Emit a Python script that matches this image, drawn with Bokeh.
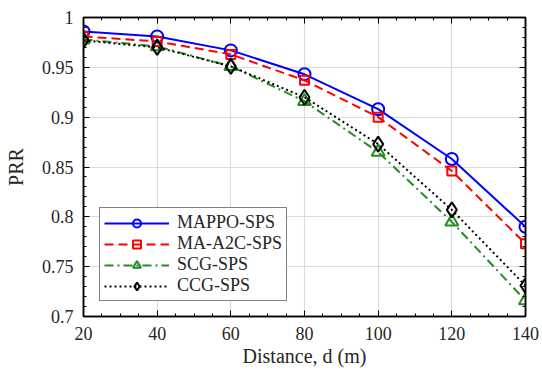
from bokeh.plotting import figure
from bokeh.models import FixedTicker, LinearAxis, Range1d, Legend, LegendItem
from bokeh.embed import file_html
from bokeh.resources import INLINE

distance = [20, 40, 60, 80, 100, 120, 140]
mappo = [0.986, 0.981, 0.967, 0.943, 0.908, 0.858, 0.790]
ma_a2c = [0.981, 0.976, 0.963, 0.937, 0.900, 0.846, 0.773]
scg = [0.978, 0.971, 0.951, 0.916, 0.865, 0.795, 0.716]
ccg = [0.977, 0.970, 0.951, 0.920, 0.873, 0.807, 0.731]

x_ticks = [20, 40, 60, 80, 100, 120, 140]
y_ticks = [0.7, 0.75, 0.8, 0.85, 0.9, 0.95, 1.0]
y_labels = ["0.7", "0.75", "0.8", "0.85", "0.9", "0.95", "1"]

FONT = "Liberation Serif"
TXT = "#262626"

p = figure(width=542, height=370, output_backend="svg", toolbar_location=None,
           x_range=Range1d(20, 140), y_range=Range1d(0.7, 1.0),
           min_border_left=83, min_border_right=17, min_border_top=17, min_border_bottom=54,
           x_axis_label="Distance, d (m)", y_axis_label="PRR")
p.background_fill_color = "white"
p.border_fill_color = "white"
p.outline_line_color = "black"
p.outline_line_width = 1.5

x_minor = [20 + 5 * i for i in range(25)]
y_minor = [round(0.7 + 0.01 * i, 2) for i in range(31)]

for ax, ticks, minor in ((p.xaxis[0], x_ticks, x_minor), (p.yaxis[0], y_ticks, y_minor)):
    ax.ticker = FixedTicker(ticks=ticks, minor_ticks=minor)
    ax.major_tick_in = 6
    ax.major_tick_out = 0
    ax.minor_tick_in = 3
    ax.minor_tick_out = 0
    ax.axis_line_color = "black"
    ax.axis_line_width = 1.5
    ax.major_tick_line_color = "black"
    ax.minor_tick_line_color = "black"
    ax.major_label_text_font = FONT
    ax.major_label_text_font_size = "18px"
    ax.major_label_text_color = TXT
    ax.axis_label_text_font = FONT
    ax.axis_label_text_font_size = "20px"
    ax.axis_label_text_font_style = "normal"
    ax.axis_label_text_color = TXT
p.yaxis[0].major_label_overrides = {t: l for t, l in zip(y_ticks, y_labels)}
p.yaxis[0].major_label_standoff = 10
p.xaxis[0].major_label_standoff = 10
p.yaxis[0].axis_label_standoff = 12
p.xaxis[0].axis_label_standoff = 2

for loc, ticks, minor in (("right", y_ticks, y_minor), ("above", x_ticks, x_minor)):
    a = LinearAxis(ticker=FixedTicker(ticks=ticks, minor_ticks=minor),
                   major_label_text_font_size="0px", major_label_text_color=None,
                   major_tick_in=6, major_tick_out=0, minor_tick_in=3, minor_tick_out=0,
                   axis_line_color="black", axis_line_width=1.5,
                   major_label_standoff=0)
    p.add_layout(a, loc)

p.xgrid.ticker = FixedTicker(ticks=x_ticks)
p.ygrid.ticker = FixedTicker(ticks=y_ticks)
p.xgrid.grid_line_color = "#dcdcdc"
p.ygrid.grid_line_color = "#dcdcdc"
p.xgrid.grid_line_width = 1.2
p.ygrid.grid_line_width = 1.2

series = [
    ("MAPPO-SPS", mappo, "#0000ff", "solid", "circle", 12),
    ("MA-A2C-SPS", ma_a2c, "#ff0000", "9 5", "square", 9),
    ("SCG-SPS", scg, "#228b22", "9 4 2 4", "triangle", 13),
    ("CCG-SPS", ccg, "#000000", "2 3", "diamond", 15),
]
items = []
for name, ys, col, dash, marker, size in series:
    l = p.line(distance, ys, line_color=col, line_width=2, line_dash=dash)
    s = p.scatter(distance, ys, marker=marker, size=size, line_color=col, line_width=2,
                  fill_color="white", fill_alpha=0)
    items.append(LegendItem(label=name, renderers=[l, s]))

leg = Legend(items=items, location=(16, 15))
leg.label_text_font = FONT
leg.label_text_font_size = "18px"
leg.label_text_color = TXT
leg.glyph_width = 65
leg.glyph_height = 20
leg.label_height = 20
leg.spacing = 0
leg.padding = 4
leg.margin = 0
leg.label_standoff = 8
leg.border_line_color = "black"
leg.border_line_width = 1.5
leg.background_fill_color = "white"
leg.background_fill_alpha = 1
p.add_layout(leg)

open("out.html", "w").write(file_html(p, INLINE))
